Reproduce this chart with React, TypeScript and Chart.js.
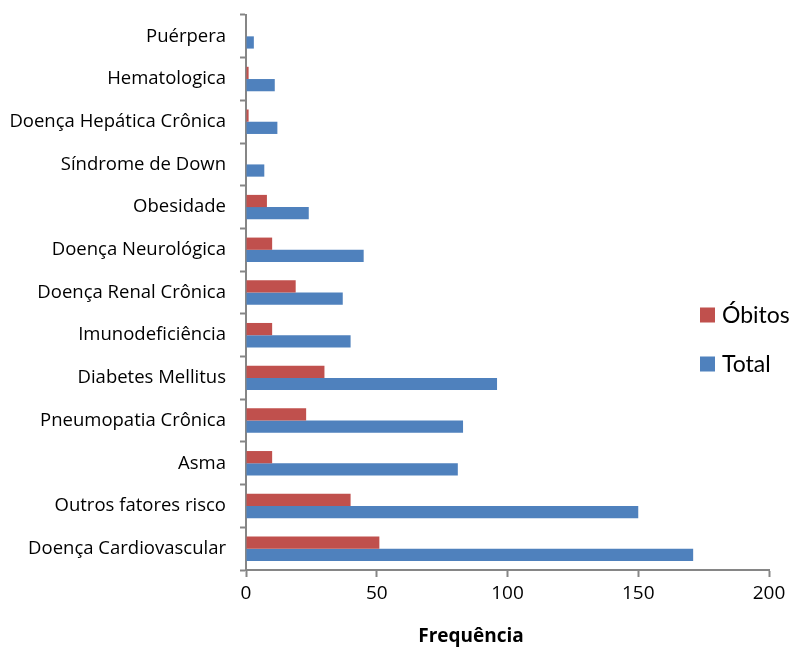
import React, { useEffect, useRef } from "react";
import { Chart, registerables } from "chart.js";

Chart.register(...registerables);

const categories = [
  "Puérpera",
  "Hematologica",
  "Doença Hepática Crônica",
  "Síndrome de Down",
  "Obesidade",
  "Doença Neurológica",
  "Doença Renal Crônica",
  "Imunodeficiência",
  "Diabetes Mellitus",
  "Pneumopatia Crônica",
  "Asma",
  "Outros fatores risco",
  "Doença Cardiovascular",
];

const obitos = [0, 1, 1, 0, 8, 10, 19, 10, 30, 23, 10, 40, 51];
const total = [3, 11, 12, 7, 24, 45, 37, 40, 96, 83, 81, 150, 171];

const xTicks = [0, 50, 100, 150, 200];

const axisTitle = "Frequência";

const FONT = "'Open Sans', Lato, sans-serif";
const LEGEND_FONT = "Lato, 'Open Sans', sans-serif";
const AXIS_GRAY = "#868686";

// Vertical legend to the right of the plot and the x-axis caption
const sideLegend = {
  id: "sideLegend",
  afterDraw(chart: Chart) {
    const ctx = chart.ctx;
    const area = chart.chartArea;
    const x = area.right - 69;
    const startY = 315;
    const step = 49;
    ctx.save();
    ctx.font = `23px ${LEGEND_FONT}`;
    ctx.textBaseline = "middle";
    ctx.textAlign = "left";
    chart.data.datasets.forEach((ds, i) => {
      const cy = startY + i * step;
      ctx.fillStyle = ds.backgroundColor as string;
      ctx.fillRect(x, cy - 7.5, 15, 15);
      ctx.fillStyle = "#000";
      ctx.fillText(ds.label as string, x + 22, cy + 1);
    });

    ctx.font = `bold 19px ${FONT}`;
    ctx.textAlign = "center";
    ctx.textBaseline = "alphabetic";
    ctx.fillText(axisTitle, 471, 642);
    ctx.restore();
  },
};

export default function App() {
  const canvasRef = useRef<HTMLCanvasElement | null>(null);

  useEffect(() => {
    if (!canvasRef.current) return;
    const chart = new Chart(canvasRef.current, {
      type: "bar",
      data: {
        labels: categories,
        datasets: [
          {
            label: "Óbitos",
            data: obitos,
            backgroundColor: "#C0504D",
            categoryPercentage: 0.573,
            barPercentage: 1,
          },
          {
            label: "Total",
            data: total,
            backgroundColor: "#4F81BD",
            categoryPercentage: 0.573,
            barPercentage: 1,
          },
        ],
      },
      options: {
        indexAxis: "y",
        animation: false,
        responsive: false,
        maintainAspectRatio: false,
        layout: { padding: { top: 15, right: 23, bottom: 0, left: 0 } },
        plugins: {
          legend: { display: false },
          tooltip: { enabled: false },
        },
        scales: {
          x: {
            min: 0,
            max: 200,
            afterBuildTicks: (scale: any) => {
              scale.ticks = xTicks.map((v) => ({ value: v }));
            },
            afterFit: (scale: any) => {
              scale.height = 83;
            },
            grid: {
              drawOnChartArea: false,
              drawTicks: true,
              tickLength: 7,
              tickWidth: 2,
              tickColor: AXIS_GRAY,
            },
            border: { color: AXIS_GRAY, width: 2 },
            ticks: {
              color: "#000",
              font: { family: FONT, size: 19 },
              padding: 5,
              maxRotation: 0,
            },
          },
          y: {
            afterFit: (scale: any) => {
              scale.width = 246;
              scale.paddingTop = 0;
              scale.paddingBottom = 0;
            },
            grid: {
              offset: true,
              drawOnChartArea: false,
              drawTicks: true,
              tickLength: 6,
              tickWidth: 2,
              tickColor: AXIS_GRAY,
            },
            border: { color: AXIS_GRAY, width: 2 },
            ticks: {
              color: "#000",
              font: { family: FONT, size: 18.5 },
              padding: 14,
              autoSkip: false,
            },
          },
        },
      },
      plugins: [sideLegend],
    });
    return () => chart.destroy();
  }, []);

  return (
    <div style={{ position: "fixed", left: 0, top: 0, width: 792, height: 653, background: "#fff" }}>
      <canvas ref={canvasRef} width={792} height={653} style={{ display: "block" }} />
    </div>
  );
}
